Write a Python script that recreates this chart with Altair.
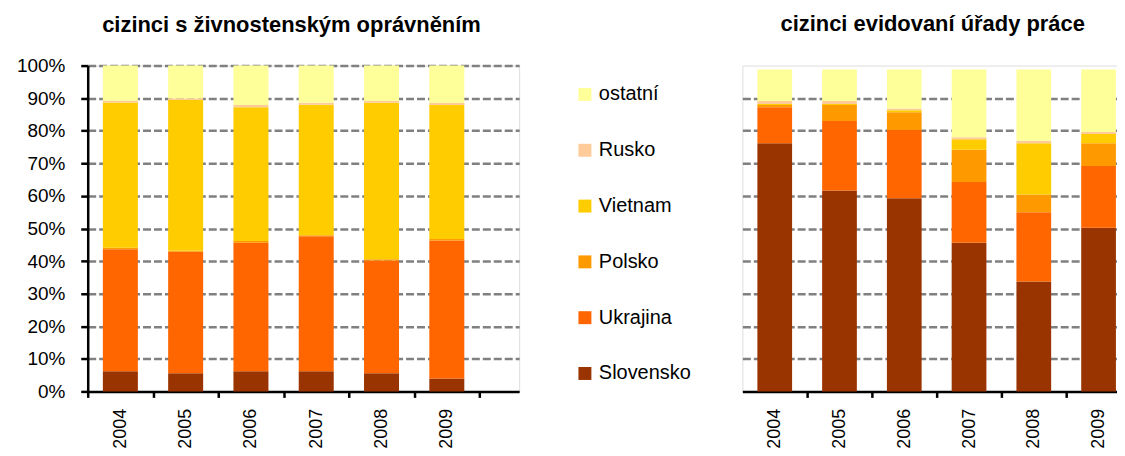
import altair as alt
import pandas as pd

# ---------------- data (shares in %) ----------------
years = ["2004", "2005", "2006", "2007", "2008", "2009"]
countries = ["Slovensko", "Ukrajina", "Polsko", "Vietnam", "Rusko", "ostatní"]
colors = ["#993300", "#FF6600", "#FF9900", "#FFCC00", "#FFCC99", "#FFFF99"]

# cizinci s živnostenským oprávněním
zivn_slovensko = [6.2, 5.6, 6.2, 6.2, 5.6, 4.0]
zivn_ukrajina = [37.4, 37.3, 39.4, 41.4, 34.6, 42.3]
zivn_polsko = [0.5, 0.3, 0.6, 0.3, 0.4, 0.5]
zivn_vietnam = [44.6, 46.2, 41.0, 40.1, 48.0, 41.1]
zivn_rusko = [0.5, 0.5, 0.7, 0.6, 0.5, 0.6]
zivn_ostatni = [10.8, 10.1, 12.1, 11.4, 10.9, 11.5]

# cizinci evidovaní úřady práce
up_slovensko = [76.2, 61.7, 59.3, 45.6, 33.7, 50.2]
up_ukrajina = [11.0, 21.3, 20.9, 18.7, 21.3, 19.0]
up_polsko = [0.7, 4.9, 5.5, 9.9, 5.4, 7.0]
up_vietnam = [0.3, 0.3, 0.6, 3.2, 15.8, 2.8]
up_rusko = [0.9, 0.9, 0.5, 0.6, 0.7, 0.6]
up_ostatni = [9.7, 9.7, 12.0, 20.8, 21.9, 19.2]

title_left = "cizinci s živnostenským oprávněním"
title_right = "cizinci evidovaní úřady práce"
y_ticks = [0, 10, 20, 30, 40, 50, 60, 70, 80, 90, 100]
y_grid_right = [10, 20, 30, 40, 50, 60, 70, 80, 90]


def long_table(series_list):
    rows = []
    for k, (c, vals) in enumerate(zip(countries, series_list)):
        for i, (yr, v) in enumerate(zip(years, vals)):
            rows.append({"year": yr, "idx": i, "country": c, "k": k, "value": v})
    return pd.DataFrame(rows)


df_left = long_table([zivn_slovensko, zivn_ukrajina, zivn_polsko,
                      zivn_vietnam, zivn_rusko, zivn_ostatni])
df_right = long_table([up_slovensko, up_ukrajina, up_polsko,
                       up_vietnam, up_rusko, up_ostatni])

FONT = "Liberation Sans"
HALF = 0.268  # half bar width in category units
years_js = "[" + ",".join("'%s'" % y for y in years) + "]"
label_expr = "datum.value < 5.2 ? %s[round(datum.value + 0.5)] : ''" % years_js

color_enc = alt.Color(
    "country:N",
    scale=alt.Scale(domain=countries[::-1], range=colors[::-1]),
    legend=alt.Legend(
        title=None, orient="none", legendX=489, legendY=19,
        symbolType="square", symbolSize=169, symbolStrokeWidth=0,
        labelFontSize=20, labelFont=FONT, labelColor="black",
        rowPadding=36, labelOffset=4, padding=0,
    ),
)


def x_axis(hide_first, step):
    kw = dict(
        values=[-0.5, 0.5, 1.5, 2.5, 3.5, 4.5] + ([] if hide_first else [5.5]),
        labelExpr=label_expr, labelOffset=step / 2, labelAngle=-90,
        labelFontSize=18, labelFont=FONT, labelColor="black", labelPadding=11,
        title=None, grid=False, domainColor="black", domainWidth=2.5,
        tickColor="black", tickWidth=2.5, tickSize=6,
    )
    if hide_first:
        kw["tickOpacity"] = {"condition": {"test": "datum.value < 0", "value": 0}, "value": 1}
    return alt.Axis(**kw)


def base(df, xdomain, step, hide_first, yaxis, title, dx, offset):
    return (
        alt.Chart(df)
        .transform_stack(stack="value", groupby=["year"], as_=["v0", "v1"],
                         sort=[alt.SortField("k", order="ascending")])
        .transform_calculate(xa="datum.idx - %f" % HALF, xb="datum.idx + %f" % HALF)
        .mark_bar()
        .encode(
            x=alt.X("xa:Q", scale=alt.Scale(domain=xdomain, nice=False, zero=False),
                    axis=x_axis(hide_first, step)),
            x2="xb:Q",
            y=alt.Y("v0:Q", scale=alt.Scale(domain=[0, 100], nice=False), axis=yaxis),
            y2="v1:Q",
            color=color_enc,
        )
        .properties(
            title=alt.TitleParams(title, font=FONT, fontSize=22, fontWeight="bold",
                                  color="black", anchor="middle", frame="group",
                                  baseline="alphabetic", offset=offset, dx=dx),
        )
    )


grid_kw = dict(grid=True, gridColor="#808080", gridDash=[8, 3], gridWidth=2.5)

yaxis_left = alt.Axis(
    values=y_ticks, labelExpr="datum.value + '%'", title=None,
    gridOpacity={"condition": {"test": "datum.value === 0", "value": 0}, "value": 1},
    domainColor="black", domainWidth=2.5, tickColor="black", tickWidth=2.5,
    tickSize=7, labelFontSize=19, labelFont=FONT, labelColor="black",
    labelPadding=16, **grid_kw,
)
yaxis_right = alt.Axis(
    values=y_grid_right, title=None, labels=False, ticks=False, domain=False,
    minExtent=0, **grid_kw,
)

left = base(df_left, [-0.5, 6.108], 65.4, False, yaxis_left, title_left, -12, 3).properties(
    width=433, height=327)
right = base(df_right, [-0.5, 5.5], 65.0, True, yaxis_right, title_right, -4, 13).properties(
    width=390, height=327)

chart = (
    alt.hconcat(left, right, spacing=222)
    .properties(padding={"left": 7, "top": 3, "right": -15, "bottom": -2})
    .configure_view(stroke=None)
    .configure(background="white")
)

chart.save("out.html", embed_options={"renderer": "svg", "actions": False})
